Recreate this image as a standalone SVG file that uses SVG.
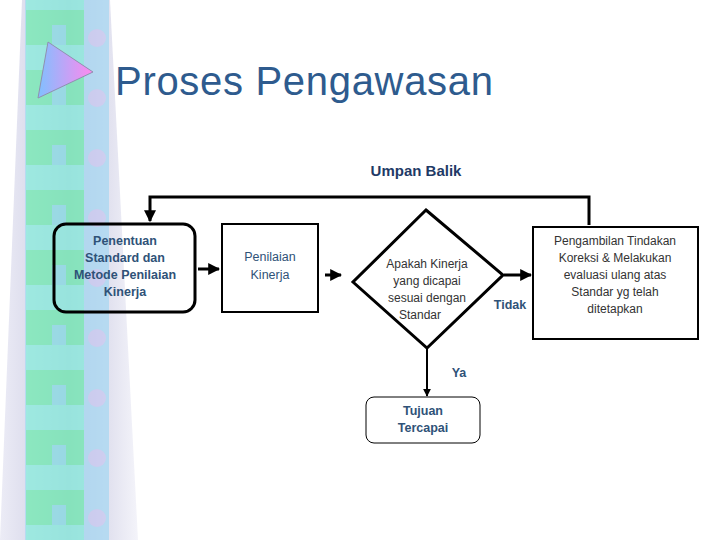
<svg xmlns="http://www.w3.org/2000/svg" width="720" height="540" viewBox="0 0 720 540">
<defs>
<linearGradient id="lav" x1="0" y1="0" x2="1" y2="0"><stop offset="0" stop-color="#ececf6"/><stop offset="0.5" stop-color="#c8c8e0"/><stop offset="1" stop-color="#f4f4fa"/></linearGradient>
<pattern id="tiles" width="84" height="60" patternUnits="userSpaceOnUse">
<rect width="84" height="60" fill="#88ecdc"/>
<rect x="0" y="0" width="26" height="60" fill="#a8d8f2"/>
<rect x="26" y="10" width="58" height="35" fill="#70eab0"/>
<rect x="52" y="25" width="14" height="20" fill="#88dce4"/>
<circle cx="13" cy="38" r="9" fill="#c8c8f0"/>
</pattern>
<linearGradient id="tri" x1="0" y1="0" x2="1" y2="0"><stop offset="0" stop-color="#80c0ff"/><stop offset="1" stop-color="#ff88ee"/></linearGradient>
<marker id="ah" viewBox="0 0 10 10" refX="9" refY="5" markerWidth="4" markerHeight="4" orient="auto"><path d="M0,0 L10,5 L0,10 z" fill="#000"/></marker>
<style>
.t{font-family:"Liberation Sans",Arial,sans-serif;font-size:12.5px;fill:#2f5278;text-anchor:middle}
.b{font-weight:bold}
.l{font-family:"Liberation Sans",Arial,sans-serif;font-size:12px;fill:#333;text-anchor:middle}
.c{stroke:#000;stroke-width:3;fill:none}
</style>
</defs>
<rect width="720" height="540" fill="#fff"/>
<polygon points="22,0 110,0 138,540 0,540" fill="url(#lav)"/>
<rect x="25" y="0" width="84" height="540" fill="url(#tiles)" opacity="0.75"/>
<polygon points="48,42 93,72 38,98" fill="url(#tri)" stroke="#9090b0" stroke-width="1"/>
<text x="115" y="95" font-family="Liberation Sans,Arial,sans-serif" font-size="40" fill="#2e5b8e" textLength="378">Proses Pengawasan</text>
<text x="416" y="176" font-family="Liberation Sans,Arial,sans-serif" font-size="15" font-weight="bold" fill="#1f3a66" text-anchor="middle">Umpan Balik</text>
<g id="connectors">
<polyline class="c" points="589,225 589,197 150,197 150,221" marker-end="url(#ah)"/>
<line class="c" x1="198" y1="269" x2="219" y2="269" marker-end="url(#ah)"/>
<line class="c" x1="325" y1="275" x2="341" y2="275" marker-end="url(#ah)"/>
<line class="c" x1="504" y1="275" x2="531" y2="275" marker-end="url(#ah)"/>
<line stroke="#000" stroke-width="2" x1="427" y1="349" x2="427" y2="396" marker-end="url(#ah)"/>
</g>
<g id="n1"><rect x="54" y="224" width="141" height="88" rx="12" fill="none" stroke="#000" stroke-width="3"/>
<text class="t b" x="125" y="245">Penentuan</text><text class="t b" x="125" y="262">Standard dan</text><text class="t b" x="125" y="279">Metode Penilaian</text><text class="t b" x="125" y="296">Kinerja</text></g>
<g id="n2"><rect x="222" y="224" width="96" height="88" fill="none" stroke="#000" stroke-width="2"/>
<text class="t" x="270" y="261" font-size="14">Penilaian</text><text class="t" x="270" y="279" font-size="14">Kinerja</text></g>
<g id="n3"><polygon points="426,210 503,275 427,348 353,282" fill="none" stroke="#000" stroke-width="3"/>
<text class="l" x="427" y="268">Apakah Kinerja</text><text class="l" x="427" y="285">yang dicapai</text><text class="l" x="427" y="302">sesuai dengan</text><text class="l" x="420" y="319">Standar</text></g>
<g id="n4"><rect x="533" y="227" width="165" height="112" fill="none" stroke="#000" stroke-width="2"/>
<text class="l" x="615" y="245">Pengambilan Tindakan</text><text class="l" x="615" y="262">Koreksi &amp; Melakukan</text><text class="l" x="615" y="279">evaluasi ulang atas</text><text class="l" x="615" y="296">Standar yg telah</text><text class="l" x="615" y="313">ditetapkan</text></g>
<g id="n5"><rect x="366" y="397" width="114" height="46" rx="8" fill="none" stroke="#000" stroke-width="1"/>
<text class="t b" x="423" y="415">Tujuan</text><text class="t b" x="423" y="432">Tercapai</text></g>
<text class="t b" x="459" y="377">Ya</text>
<text class="t b" x="510" y="309">Tidak</text>
</svg>
